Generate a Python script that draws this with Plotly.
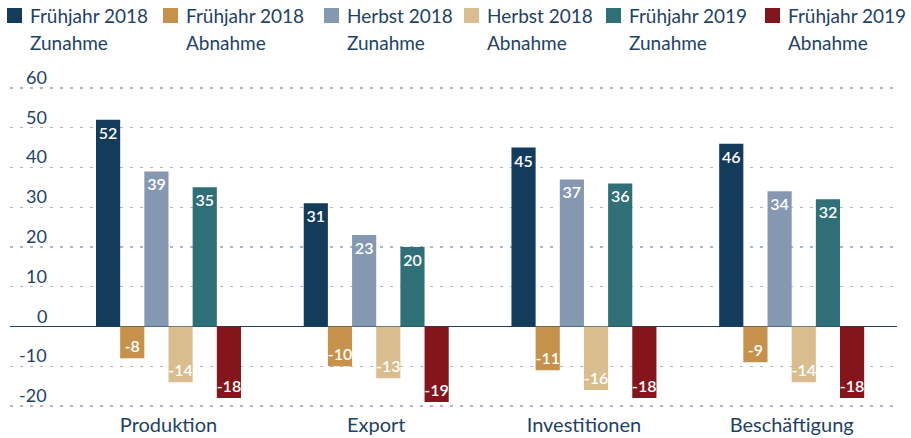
import plotly.graph_objects as go

categories = ["Produktion", "Export", "Investitionen", "Beschäftigung"]
series_line1 = ["Frühjahr 2018", "Frühjahr 2018", "Herbst 2018", "Herbst 2018", "Frühjahr 2019", "Frühjahr 2019"]
series_line2 = ["Zunahme", "Abnahme", "Zunahme", "Abnahme", "Zunahme", "Abnahme"]
fj18_zunahme = [52, 31, 45, 46]
fj18_abnahme = [-8, -10, -11, -9]
h18_zunahme = [39, 23, 37, 34]
h18_abnahme = [-14, -13, -16, -14]
fj19_zunahme = [35, 20, 36, 32]
fj19_abnahme = [-18, -19, -18, -18]
y_ticks = [60, 50, 40, 30, 20, 10, 0, -10, -20]

series_values = [fj18_zunahme, fj18_abnahme, h18_zunahme, h18_abnahme, fj19_zunahme, fj19_abnahme]
colors = ["#133b5c", "#c6914b", "#8499b1", "#d9bd8f", "#2e6f78", "#84161b"]
text_color = "#1d4266"
FONT = "Lato"

W, H = 911, 438
ML, MR, MT, MB = 10, 14, 86, 30
PW, PH = W - ML - MR, H - MT - MB


def px_x(px):
    return (px - ML) / PW


def px_y(py):
    return (H - MB - py) / PH


fig = go.Figure()
for i, vals in enumerate(series_values):
    fig.add_trace(go.Bar(
        x=categories, y=vals, name=series_line1[i] + " " + series_line2[i],
        text=[str(v) for v in vals],
        marker=dict(color=colors[i], line=dict(width=0)),
        texttemplate="%{text}", textposition="inside", insidetextanchor="end", textangle=0,
        textfont=dict(color="white", size=16, family=FONT, weight=600),
        hoverinfo="skip", showlegend=False,
    ))

# manual legend
sq_left = [7, 163, 324, 464, 606, 765]
shapes = []
annotations = []
for i in range(6):
    shapes.append(dict(type="rect", xref="paper", yref="paper",
                       x0=px_x(sq_left[i]), x1=px_x(sq_left[i] + 15),
                       y0=px_y(23), y1=px_y(8),
                       fillcolor=colors[i], line=dict(width=0)))
    for line_txt, cy in ((series_line1[i], 16), (series_line2[i], 43)):
        annotations.append(dict(xref="paper", yref="paper",
                                x=px_x(sq_left[i] + 21), y=px_y(cy),
                                xanchor="left", yanchor="middle", showarrow=False,
                                text=line_txt, font=dict(size=19, color=text_color, family=FONT)))

# y tick labels above gridlines
for t in y_ticks:
    annotations.append(dict(xref="paper", yref="y", x=px_x(49), y=t,
                            xanchor="right", yanchor="middle", yshift=11, showarrow=False,
                            text=str(t), font=dict(size=18, color=text_color, family=FONT)))

fig.update_layout(
    width=W, height=H,
    margin=dict(l=ML, r=MR, t=MT, b=MB, autoexpand=False),
    paper_bgcolor="white", plot_bgcolor="white",
    barmode="group", bargap=0.302, bargroupgap=0,
    uniformtext=dict(minsize=16, mode="show"),
    font=dict(family=FONT, color=text_color),
    shapes=shapes, annotations=annotations,
    xaxis=dict(range=[-0.763, 3.507], showgrid=False, zeroline=False, showline=False,
               automargin=False, ticks="", ticklabelstandoff=3,
               tickfont=dict(size=20, color=text_color, family=FONT)),
    yaxis=dict(range=[-20.5, 60.5], tickvals=y_ticks, showticklabels=False, automargin=False,
               showgrid=True, gridcolor="#a9b7c7", gridwidth=1.3, griddash="3px,7px",
               zeroline=True, zerolinecolor="#1d4266", zerolinewidth=1.5, showline=False),
)

fig.write_html("out.html", config={"displayModeBar": False, "staticPlot": True},
               post_script="document.body.style.margin='0';")
